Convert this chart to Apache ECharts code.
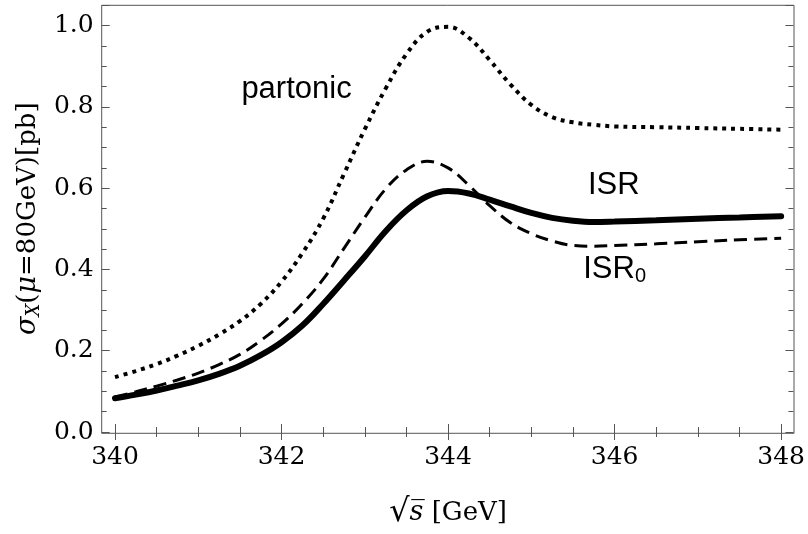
<!DOCTYPE html>
<html>
<head>
<meta charset="utf-8">
<script src="https://cdn.jsdelivr.net/npm/echarts@6/dist/echarts.min.js"></script>
<style>html,body{margin:0;padding:0;background:#fff}#c{width:808px;height:534px}</style>
</head>
<body>
<div id="c"></div>
<script>
// sqrt(s) in GeV
const energies = [340,340.25,340.5,340.75,341,341.25,341.5,341.75,342,342.25,342.5,342.75,343,343.25,343.5,343.75,344,344.25,344.5,344.75,345,345.25,345.5,345.75,346,346.5,347,347.5,348];
const partonic = [0.135,0.15,0.167,0.188,0.212,0.24,0.273,0.315,0.37,0.44,0.525,0.635,0.745,0.845,0.93,0.985,0.997,0.97,0.915,0.855,0.805,0.775,0.762,0.756,0.752,0.75,0.748,0.746,0.744];
const isr0 = [0.086,0.099,0.113,0.128,0.145,0.166,0.191,0.225,0.266,0.316,0.376,0.452,0.528,0.598,0.645,0.666,0.65,0.607,0.557,0.515,0.488,0.47,0.459,0.457,0.459,0.463,0.468,0.473,0.477];
const isr = [0.083,0.092,0.102,0.114,0.127,0.143,0.163,0.189,0.221,0.262,0.315,0.373,0.432,0.494,0.545,0.58,0.593,0.587,0.572,0.555,0.539,0.527,0.52,0.517,0.518,0.521,0.525,0.528,0.531];
const xTicks = [340,342,344,346,348];
const yTicks = [0,0.2,0.4,0.6,0.8,1.0];
const curveLabels = [
  {name:'partonic', x:342.18, y:0.842},
  {name:'ISR', x:345.99, y:0.607},
  {name:'ISR0', x:346.0, y:0.40}
];

const pair = (ys) => energies.map((x,i)=>[x, ys[i]]);
const serif = 'DejaVu Serif';
const sans = 'Liberation Sans';
const axisCol = '#555';

const chart = echarts.init(document.getElementById('c'), null, {renderer:'canvas'});

const xCommon = (pos, labels) => ({
  gridIndex:0, type:'value', position:pos, min:340, max:348, interval:2,
  axisLine:{show:false},
  axisTick:{show:true, inside:true, length:8, lineStyle:{color:axisCol, width:1}},
  minorTick:{show:true, splitNumber:4, length:5, lineStyle:{color:axisCol, width:1}},
  splitLine:{show:false}, minorSplitLine:{show:false},
  axisLabel:{show:labels, color:'#000', fontFamily:serif, fontSize:25, margin:13,
    formatter:(v)=> xTicks.includes(v) ? String(v) : ''}
});
const yCommon = (pos, labels, offset) => ({
  gridIndex:0, type:'value', position:pos, offset:offset, min:0, max:1.05, interval:0.2,
  axisLine:{show:false},
  axisTick:{show:true, inside:true, length:8, lineStyle:{color:axisCol, width:1}},
  minorTick:{show:true, splitNumber:4, length:5, lineStyle:{color:axisCol, width:1}},
  splitLine:{show:false}, minorSplitLine:{show:false},
  axisLabel:{show:labels, color:'#000', fontFamily:serif, fontSize:25, margin:8,
    formatter:(v)=> yTicks.some(t=>Math.abs(t-v)<1e-9) ? v.toFixed(1) : ''}
});

const xBottom = xCommon('bottom', true);
xBottom.name = '{sq|√}{i|s̅}{n| [GeV]}';
xBottom.nameLocation = 'middle';
xBottom.nameGap = 65;
xBottom.nameTextStyle = {rich:{
  sq:{fontFamily:serif, fontSize:32, color:'#000'},
  i:{fontFamily:serif, fontSize:27, fontStyle:'italic', color:'#000'},
  n:{fontFamily:serif, fontSize:26, color:'#000'}
}};

const yLeft = yCommon('left', true, 13.3);
yLeft.name = '{i|σ}{sub|X}{n|(}{i|μ}{n|=80GeV)[pb]}';
yLeft.nameLocation = 'middle';
yLeft.nameGap = 58;
yLeft.nameTextStyle = {rich:{
  i:{fontFamily:serif, fontSize:27, fontStyle:'italic', color:'#000'},
  sub:{fontFamily:serif, fontSize:18, fontStyle:'italic', color:'#000', padding:[12,0,0,0]},
  n:{fontFamily:serif, fontSize:26, color:'#000'}
}};

const labelRich = {
  n:{fontFamily:sans, fontSize:31, color:'#000'},
  s:{fontFamily:sans, fontSize:20, color:'#000', padding:[14,0,0,0]}
};

chart.setOption({
  animation:false,
  backgroundColor:'#fff',
  grid:[
    {left:115, right:26.3, top:5.3, bottom:100.7, show:false},
    {left:101.7, right:14, top:5.3, bottom:100.7, show:true, borderColor:axisCol, borderWidth:1, backgroundColor:'transparent'}
  ],
  xAxis:[
    xBottom,
    xCommon('top', false),
    {gridIndex:1, type:'value', show:false, min:0, max:1}
  ],
  yAxis:[
    yLeft,
    yCommon('right', false, 12.3),
    {gridIndex:1, type:'value', show:false, min:0, max:1}
  ],
  series:[
    {type:'line', xAxisIndex:0, yAxisIndex:0, data:pair(partonic), smooth:0.4, showSymbol:false,
      lineStyle:{color:'#000', width:4, type:[4,5], cap:'butt'},
      markPoint:{symbolSize:0, data:[{coord:[curveLabels[0].x, curveLabels[0].y],
        label:{show:true, position:'inside', formatter:'{n|partonic}', rich:labelRich}}]}},
    {type:'line', xAxisIndex:0, yAxisIndex:0, data:pair(isr0), smooth:0.4, showSymbol:false,
      lineStyle:{color:'#000', width:3, type:[13,7], cap:'butt'},
      markPoint:{symbolSize:0, data:[{coord:[curveLabels[2].x, curveLabels[2].y],
        label:{show:true, position:'inside', formatter:'{n|ISR}{s|0}', rich:labelRich}}]}},
    {type:'line', xAxisIndex:0, yAxisIndex:0, data:pair(isr), smooth:0.4, showSymbol:false,
      lineStyle:{color:'#000', width:6, cap:'round'},
      markPoint:{symbolSize:0, data:[{coord:[curveLabels[1].x, curveLabels[1].y],
        label:{show:true, position:'inside', formatter:'{n|ISR}', rich:labelRich}}]}}
  ]
});
</script>
</body>
</html>
